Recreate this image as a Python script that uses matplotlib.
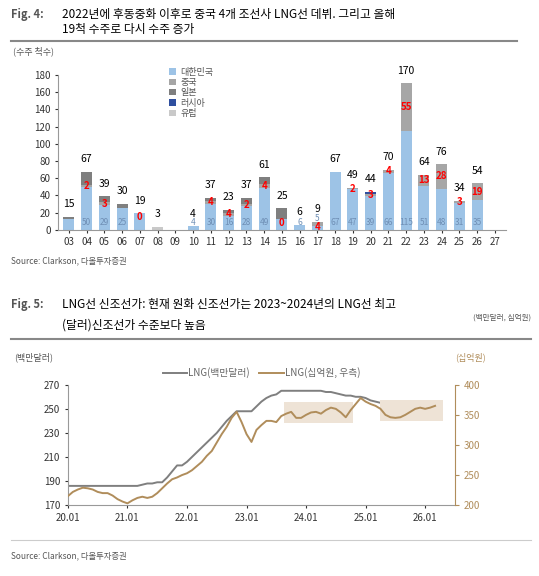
import matplotlib
matplotlib.use("Agg")
import matplotlib.pyplot as plt
from matplotlib.lines import Line2D
import numpy as np

plt.rcParams["font.family"] = ["Noto Sans CJK KR", "DejaVu Sans"]

# Fig 4 data
years = ["03", "04", "05", "06", "07", "08", "09", "10", "11", "12", "13", "14", "15",
         "16", "17", "18", "19", "20", "21", "22", "23", "24", "25", "26", "27"]
korea = [13, 50, 29, 25, 19, 0, 0, 4, 30, 16, 28, 49, 12, 6, 5, 67, 47, 39, 66, 115, 51, 48, 31, 35, 0]
china = [0, 2, 3, 0, 0, 0, 0, 0, 4, 4, 2, 4, 0, 0, 4, 0, 2, 3, 4, 55, 13, 28, 3, 19, 0]
japan = [2, 15, 7, 5, 0, 0, 0, 0, 3, 3, 7, 8, 13, 0, 0, 0, 0, 0, 0, 0, 0, 0, 0, 0, 0]
russia = [0, 0, 0, 0, 0, 0, 0, 0, 0, 0, 0, 0, 0, 0, 0, 0, 0, 2, 0, 0, 0, 0, 0, 0, 0]
europe = [0, 0, 0, 0, 0, 3, 0, 0, 0, 0, 0, 0, 0, 0, 0, 0, 0, 0, 0, 0, 0, 0, 0, 0, 0]
totals = [15, 67, 39, 30, 19, 3, None, 4, 37, 23, 37, 61, 25, 6, 9, 67, 49, 44, 70, 170, 64, 76, 34, 54, None]
red_labels = [None, 2, 3, None, 0, None, None, None, 4, 4, 2, 4, 0, None, 4, None, 2, 3, 4, 55, 13, 28, 3, 19, None]
hide_korea = {"03", "07", "08", "09", "15", "27"}

# Fig 5 data (monthly from 2020.01)
usd = [186] * 12 + \
      [186, 186, 186, 187, 188, 188, 189, 189, 193, 198, 203, 203] + \
      [206, 210, 214, 218, 222, 226, 230, 235, 240, 244, 248, 248] + \
      [248, 248, 252, 256, 259, 261, 262, 265, 265, 265, 265, 265] + \
      [265, 265, 265, 265, 264, 264, 263, 262, 261, 261, 260, 260] + \
      [259, 257, 256, 255, 254, 250, 250, 250, 249, 248, 248, 248] + \
      [248, 248, 248]
krw = [215, 222, 226, 229, 228, 226, 222, 220, 220, 216, 210, 206,
       203, 208, 212, 214, 212, 214, 220, 228, 236, 243, 246, 250,
       253, 258, 265, 272, 282, 290, 304, 318, 330, 345, 355, 338,
       318, 305, 325, 333, 340, 340, 338, 348, 352, 355, 345, 345,
       350, 354, 355, 352, 358, 362, 360, 354, 346, 358, 368, 378,
       372, 368, 365, 360, 350, 346, 345, 346, 350, 355, 360, 362,
       360, 362, 365]
month_ticks = ["20.01", "21.01", "22.01", "23.01", "24.01", "25.01", "26.01"]

C_KOR = "#9dc3e6"
C_CHN = "#a6a6a6"
C_JPN = "#7f7f7f"
C_RUS = "#2f4f9f"
C_EUR = "#c9c9c9"
C_USD = "#7f7f7f"
C_KRW = "#b08d5b"

fig = plt.figure(figsize=(5.39, 5.76), dpi=100)

# titles
fig.text(0.02, 0.975, "Fig. 4:", fontsize=8, style="italic", fontweight="bold", color="#555555", va="center")
fig.text(0.115, 0.975, "2022년에 후동중화 이후로 중국 4개 조선사 LNG선 데뷔. 그리고 올해", fontsize=8.5, va="center")
fig.text(0.115, 0.948, "19척 수주로 다시 수주 증가", fontsize=8.5, va="center")
fig.add_artist(Line2D([0.02, 0.96], [0.928, 0.928], color="#888888", lw=1.5))
fig.text(0.02, 0.543, "Source: Clarkson, 다올투자증권", fontsize=6, color="#555555")

fig.text(0.02, 0.472, "Fig. 5:", fontsize=8, style="italic", fontweight="bold", color="#555555", va="center")
fig.text(0.115, 0.472, "LNG선 신조선가: 현재 원화 신조선가는 2023~2024년의 LNG선 최고", fontsize=8.5, va="center")
fig.text(0.115, 0.435, "(달러)신조선가 수준보다 높음", fontsize=8.5, va="center")
fig.text(0.985, 0.446, "(백만달러, 십억원)", fontsize=5.5, color="#555555", ha="right")
fig.add_artist(Line2D([0.02, 0.985], [0.412, 0.412], color="#888888", lw=1.5))
fig.add_artist(Line2D([0.02, 0.985], [0.063, 0.063], color="#cccccc", lw=0.8))
fig.text(0.02, 0.03, "Source: Clarkson, 다올투자증권", fontsize=6, color="#555555")

# Fig 4 chart
ax = fig.add_axes([0.108, 0.601, 0.83, 0.269])
x = np.arange(len(years))
w = 0.62
b = np.zeros(len(years))
for vals, col, lab in [(korea, C_KOR, "대한민국"), (china, C_CHN, "중국"), (japan, C_JPN, "일본"),
                       (russia, C_RUS, "러시아"), (europe, C_EUR, "유럽")]:
    ax.bar(x, vals, w, bottom=b, color=col, label=lab)
    b += np.array(vals)
for i, yr in enumerate(years):
    if totals[i] is not None:
        ax.text(i, totals[i] + 9, str(totals[i]), ha="center", va="bottom", fontsize=7.5)
    ky = 13 if yr == "17" else 9
    if yr not in hide_korea and korea[i] > 0:
        ax.text(i, ky, str(korea[i]), ha="center", va="center", fontsize=6, color="#6f8fb5")
    if red_labels[i] is not None:
        if yr == "17":
            yy = 3
        elif china[i] > 0:
            yy = korea[i] + china[i] / 2
        else:
            yy = korea[i] - 4
        ax.text(i, yy, str(red_labels[i]), ha="center", va="center", fontsize=7,
                color="#ff0000", fontweight="bold")
ax.set_xlim(-0.6, len(years) - 0.4)
ax.set_ylim(0, 180)
ax.set_yticks(range(0, 181, 20))
ax.set_xticks(x)
ax.set_xticklabels(years)
ax.tick_params(labelsize=7, colors="#333333", length=2)
for s in ["top", "right"]:
    ax.spines[s].set_visible(False)
ax.spines["left"].set_color("#999999")
ax.spines["bottom"].set_color("#999999")
ax.text(-0.1, 1.12, "(수주 척수)", transform=ax.transAxes, fontsize=6.5, color="#555555", va="bottom")
ax.legend(loc="upper left", bbox_to_anchor=(0.23, 1.1), frameon=False, fontsize=6.5,
          handlelength=0.7, handleheight=0.7, handletextpad=0.5, labelspacing=0.15, labelcolor="#555555")

# Fig 5 chart
ax2 = fig.add_axes([0.126, 0.123, 0.718, 0.209])
ax3 = ax2.twinx()
mx = np.arange(len(usd))
ax3.axvspan(43.5, 57.5, ymin=(337 - 200) / 200, ymax=(372 - 200) / 200, color="#eee3d6", lw=0, zorder=0)
ax3.axvspan(63, 75.5, ymin=(340 - 200) / 200, ymax=(375 - 200) / 200, color="#eee3d6", lw=0, zorder=0)
ax2.plot(mx, usd, color=C_USD, lw=1.4, label="LNG(백만달러)")
ax3.plot(np.arange(len(krw)), krw, color=C_KRW, lw=1.4, label="LNG(십억원, 우측)")
ax2.set_ylim(170, 270)
ax2.set_yticks(range(170, 271, 20))
ax3.set_ylim(200, 400)
ax3.set_yticks(range(200, 401, 50))
ax2.set_xlim(0, 78)
ax2.set_xticks(range(0, 73, 12))
ax2.set_xticklabels(month_ticks)
ax2.tick_params(labelsize=7, colors="#333333", length=2)
ax3.tick_params(labelsize=7, colors=C_KRW, length=3)
for a in (ax2, ax3):
    a.spines["top"].set_visible(False)
ax2.spines["right"].set_visible(False)
ax3.spines["left"].set_visible(False)
ax3.spines["bottom"].set_visible(False)
ax3.spines["right"].set_color(C_KRW)
ax2.spines["left"].set_color("#999999")
ax2.spines["bottom"].set_color("#999999")
ax2.text(-0.14, 1.2, "(백만달러)", transform=ax2.transAxes, fontsize=6.5, color="#555555")
ax3.text(1.0, 1.2, "(십억원)", transform=ax3.transAxes, fontsize=6.5, color=C_KRW)
h1, l1 = ax2.get_legend_handles_labels()
h2, l2 = ax3.get_legend_handles_labels()
ax2.legend(h1 + h2, l1 + l2, loc="lower center", bbox_to_anchor=(0.5, 0.98), ncol=2, frameon=False,
           fontsize=7, handlelength=2.5, columnspacing=1.0, handletextpad=0.1, labelcolor="#666666")

fig.savefig("out.png", dpi=100)
